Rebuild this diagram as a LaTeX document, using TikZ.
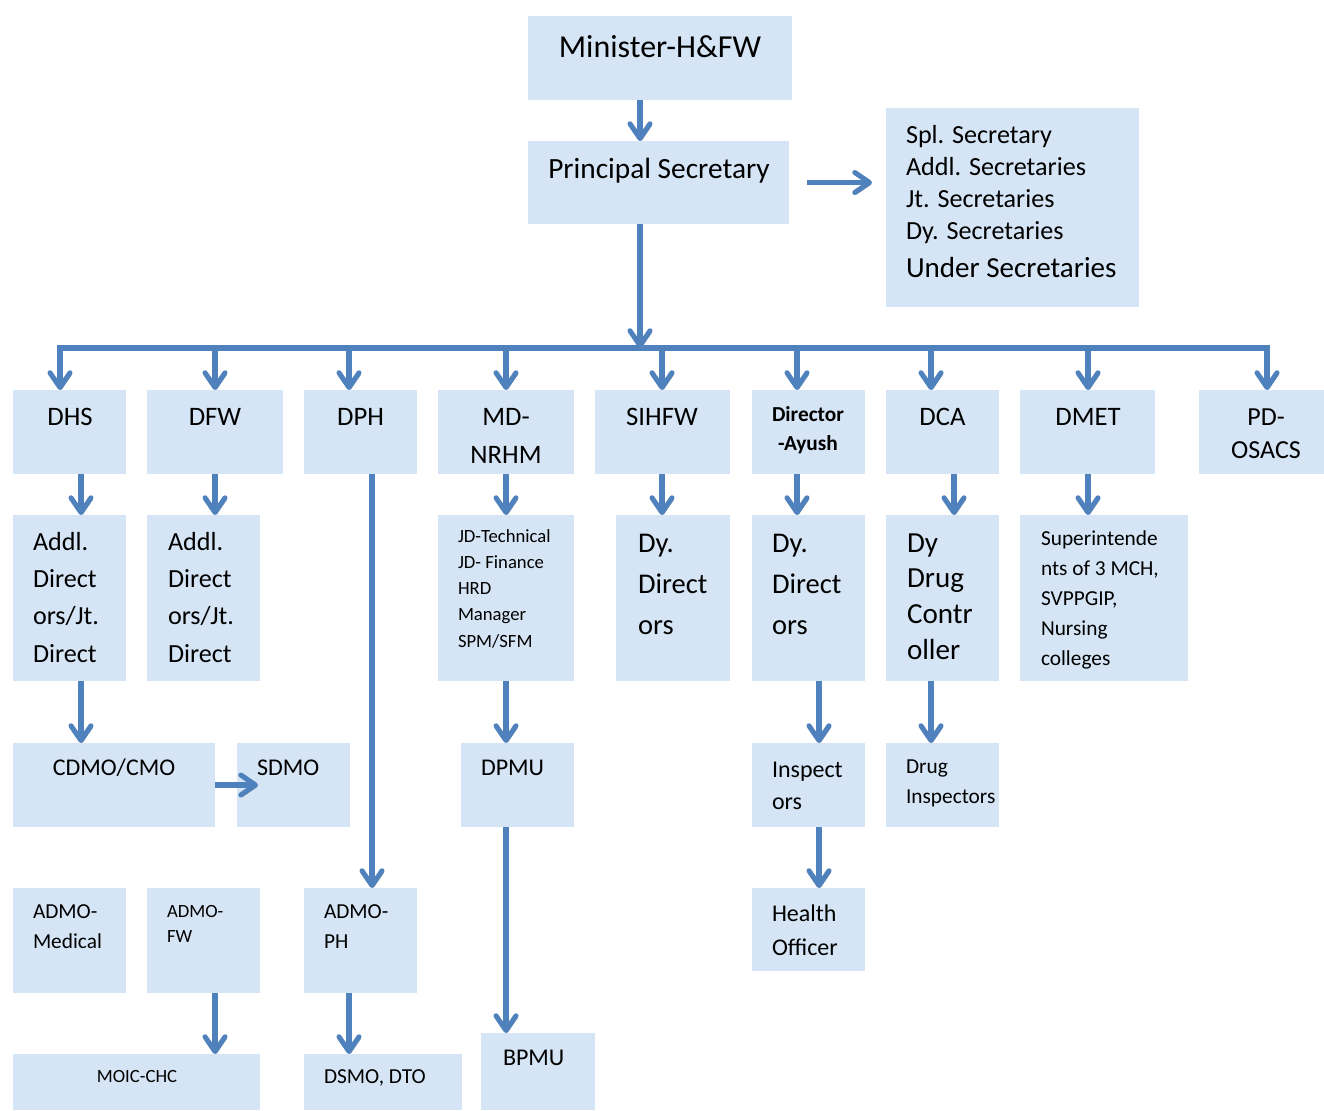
\documentclass[tikz,border=0pt]{standalone}
\usepackage{fontspec}
\setmainfont{Carlito}
\usetikzlibrary{arrows.meta}
\definecolor{boxfill}{RGB}{213,229,245}
\definecolor{arrblue}{RGB}{79,129,189}
\newcommand\stkL[2]{\vtop{\baselineskip=#1\lineskiplimit=-\maxdimen\lineskip=0pt\let\\\cr\halign{##\hfil\cr#2\crcr}}}
\newcommand\stkC[2]{\vtop{\baselineskip=#1\lineskiplimit=-\maxdimen\lineskip=0pt\let\\\cr\halign{\hfil##\hfil\cr#2\crcr}}}
\newcommand\fs[1]{\fontsize{#1}{#1}\selectfont}
\newcommand\bx[5]{\node[box, minimum width={(#4-#2)*0.75pt}, minimum height={(#5-#3)*0.75pt}] (#1) at ({(#2+#4)/2},{(#3+#5)/2}) {};}
\newcommand\vc[3]{\coordinate (tmp) at (#3,0); \draw[conn] (#1.south -| tmp) -- (#2.north -| tmp);}
\tikzset{
  box/.style={fill=boxfill, draw=none, inner sep=0pt, outer sep=0pt, rectangle},
  shadowed/.style={preaction={draw=black!30, transform canvas={xshift=1.2pt, yshift=-1.5pt}}},
  conn/.style={draw=arrblue, line width=3.8pt, -{Straight Barb[length=11pt, width=15pt, round]}, shadowed},
  bar/.style={draw=arrblue, line width=3.8pt, line cap=rect, shadowed},
  txtl/.style={inner sep=0pt, outer sep=0pt, anchor=base west},
  txtc/.style={inner sep=0pt, outer sep=0pt, anchor=base},
}
\begin{document}
\begin{tikzpicture}[x=0.75pt, y=-0.75pt]
\useasboundingbox (0,0) rectangle (1324,1110);
% boxes
\bx{mn}{528}{16}{792}{100}
\bx{ps}{528}{141}{789}{224}
\bx{rb}{886}{108}{1139}{307}
\bx{dhs}{13}{390}{126}{474}
\bx{dfw}{147}{390}{283}{474}
\bx{dph}{304}{390}{417}{474}
\bx{mdn}{438}{390}{574}{474}
\bx{sih}{595}{390}{730}{474}
\bx{ayu}{752}{390}{865}{474}
\bx{dca}{886}{390}{999}{474}
\bx{dme}{1020}{390}{1155}{474}
\bx{pdo}{1199}{390}{1334}{474}
\bx{adh}{13}{515}{126}{681}
\bx{adf}{147}{515}{260}{681}
\bx{jdl}{438}{515}{574}{681}
\bx{sdy}{616}{515}{730}{681}
\bx{ady}{752}{515}{865}{681}
\bx{ddc}{886}{515}{999}{681}
\bx{sup}{1020}{515}{1188}{681}
\bx{cdm}{13}{743}{215}{827}
\bx{sdm}{237}{743}{350}{827}
\bx{dpm}{461}{743}{574}{827}
\bx{ins}{752}{743}{865}{827}
\bx{dri}{886}{743}{999}{827}
\bx{amd}{13}{888}{126}{993}
\bx{afw}{147}{888}{260}{993}
\bx{aph}{304}{888}{417}{993}
\bx{hof}{752}{888}{865}{971}
\bx{moi}{13}{1054}{260}{1110}
\bx{dsm}{304}{1054}{462}{1110}
\bx{bpm}{481}{1033}{595}{1110}
% bus coordinates
\coordinate (b1) at (60,348);
\coordinate (b2) at (215,348);
\coordinate (b3) at (349,348);
\coordinate (b4) at (506,348);
\coordinate (b5) at (662,348);
\coordinate (b6) at (797,348);
\coordinate (b7) at (931,348);
\coordinate (b8) at (1088,348);
\coordinate (b9) at (1267,348);
\coordinate (ax) at (640,348);
% connectors
\draw[conn] (mn.south -| ax) -- (ps.north -| ax);
\draw[bar] (b1) -- (b9);
\draw[conn] (ps.south -| ax) -- (ax);
\draw[conn] ([xshift=13.5pt]ps.east) -- ([xshift=-10.5pt]ps.east -| rb.west);
\draw[conn] (b1) -- (b1 |- dhs.north);
\draw[conn] (b2) -- (b2 |- dfw.north);
\draw[conn] (b3) -- (b3 |- dph.north);
\draw[conn] (b4) -- (b4 |- mdn.north);
\draw[conn] (b5) -- (b5 |- sih.north);
\draw[conn] (b6) -- (b6 |- ayu.north);
\draw[conn] (b7) -- (b7 |- dca.north);
\draw[conn] (b8) -- (b8 |- dme.north);
\draw[conn] (b9) -- (b9 |- pdo.north);
\vc{dhs}{adh}{81}
\vc{dfw}{adf}{215}
\vc{mdn}{jdl}{506}
\vc{sih}{sdy}{662}
\vc{ayu}{ady}{797}
\vc{dca}{ddc}{954}
\vc{dme}{sup}{1088}
\vc{adh}{cdm}{81}
\vc{dph}{aph}{372}
\vc{jdl}{dpm}{506}
\vc{ady}{ins}{819}
\vc{ddc}{dri}{931}
\vc{ins}{hof}{819}
\vc{dpm}{bpm}{506}
\vc{afw}{moi}{215}
\vc{aph}{dsm}{349}
\draw[conn] (cdm.east) -- ([xshift=15.75pt]sdm.west |- cdm.east);
% texts
\node[txtc, font={\fs{24}}] (mnT) at (660,57) {Minister-H\&FW};
\node[txtc, font={\fs{22}}] (psT) at (659,178) {Principal Secretary};
\node[txtl, font={\fs{19.6}}] (rbT) at (906,143) {\stkL{24pt}{Spl. Secretary\\Addl. Secretaries\\Jt. Secretaries\\Dy. Secretaries\\\noalign{\vskip4.5pt}\fs{21.8}Under Secretaries}};
\node[txtc, font={\fs{20}}] (dhsT) at (70,425) {DHS};
\node[txtc, font={\fs{20}}] (dfwT) at (215,425) {DFW};
\node[txtc, font={\fs{20}}] (dphT) at (360.5,425) {DPH};
\node[txtc, font={\fs{20}}] (mdnT) at (506,425) {\stkC{28.5pt}{MD-\\NRHM}};
\node[txtc, font={\fs{20}}] (sihT) at (662,425) {SIHFW};
\node[txtc, font={\fs{16}\bfseries}] (ayuT) at (808,421) {\stkC{21.75pt}{Director\\-Ayush}};
\node[txtc, font={\fs{20}}] (dcaT) at (942.5,425) {DCA};
\node[txtc, font={\fs{20}}] (dmeT) at (1088,425) {DMET};
\node[txtc, font={\fs{19.5}}] (pdoT) at (1266,425) {\stkC{24.75pt}{PD-\\OSACS}};
\node[txtl, font={\fs{19.6}}] (adhT) at (33,550) {\stkL{28pt}{Addl.\\Direct\\ors/Jt.\\Direct}};
\node[txtl, font={\fs{19.6}}] (adfT) at (168,550) {\stkL{28pt}{Addl.\\Direct\\ors/Jt.\\Direct}};
\node[txtl, font={\fs{14}}] (jdlT) at (458,542) {\stkL{19.7pt}{JD-Technical\\JD- Finance\\HRD\\Manager\\SPM/SFM}};
\node[txtl, font={\fs{21.4}}] (sdyT) at (638,552) {\stkL{30.75pt}{Dy.\\Direct\\ors}};
\node[txtl, font={\fs{21.4}}] (adyT) at (772,552) {\stkL{30.75pt}{Dy.\\Direct\\ors}};
\node[txtl, font={\fs{21.8}}] (ddcT) at (907,552) {\stkL{26.75pt}{Dy\\Drug\\Contr\\oller}};
\node[txtl, font={\fs{16}}] (supT) at (1041,545) {\stkL{22.5pt}{Superintende\\nts of 3 MCH,\\SVPPGIP,\\Nursing\\colleges}};
\node[txtc, font={\fs{18}}] (cdmT) at (114,775) {CDMO/CMO};
\node[txtl, font={\fs{18}}] (sdmT) at (257,775) {SDMO};
\node[txtl, font={\fs{18}}] (dpmT) at (481,775) {DPMU};
\node[txtl, font={\fs{18}}] (insT) at (772,777) {\stkL{24pt}{Inspect\\ors}};
\node[txtl, font={\fs{16}}] (driT) at (906,773) {\stkL{22.5pt}{Drug\\Inspectors}};
\node[txtl, font={\fs{16}}] (amdT) at (33,918) {\stkL{22.5pt}{ADMO-\\Medical}};
\node[txtl, font={\fs{14}}] (afwT) at (167,917) {\stkL{18.75pt}{ADMO-\\FW}};
\node[txtl, font={\fs{16}}] (aphT) at (324,918) {\stkL{22.5pt}{ADMO-\\PH}};
\node[txtl, font={\fs{18}}] (hofT) at (772,921) {\stkL{25.5pt}{Health\\Officer}};
\node[txtc, font={\fs{14}}] (moiT) at (137,1082) {MOIC-CHC};
\node[txtl, font={\fs{16}}] (dsmT) at (324,1083) {DSMO, DTO};
\node[txtl, font={\fs{18}}] (bpmT) at (503,1065) {BPMU};
\end{tikzpicture}
\end{document}
